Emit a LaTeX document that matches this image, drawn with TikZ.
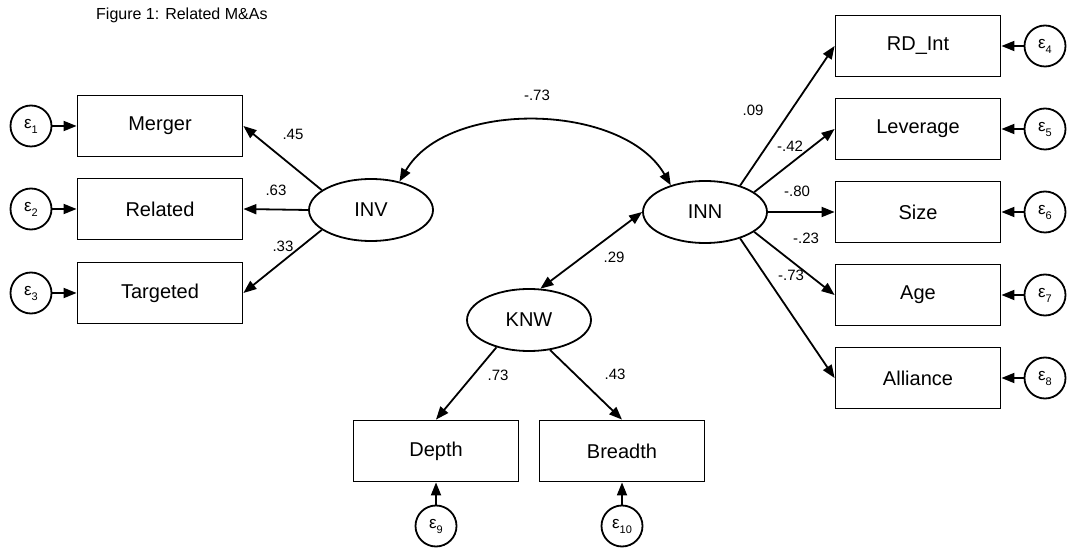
\documentclass[tikz,border=0pt]{standalone}
\usepackage{fontspec}
\setmainfont{Liberation Sans}
\usetikzlibrary{arrows.meta,shapes.geometric}
\newcommand{\errlab}[1]{ε\raisebox{-5pt}{\fontsize{11}{11}\selectfont#1}}
\begin{document}
\begin{tikzpicture}[x=1pt, y=1pt,
    obsbox/.style={draw, line width=1.8pt, minimum width=165pt, minimum height=61pt, inner sep=0pt, font=\fontsize{20}{24}\selectfont},
    latent/.style={draw, ellipse, line width=1.8pt, minimum width=124pt, minimum height=62pt, inner sep=0pt, font=\fontsize{20}{24}\selectfont},
    errc/.style={draw, circle, line width=1.8pt, minimum size=41pt, inner sep=0pt, font=\fontsize{17}{20}\selectfont},
    onearrow/.style={line width=1.8pt, -{Triangle[length=13pt,width=10pt]}},
    twoarrow/.style={line width=1.8pt, {Triangle[length=13pt,width=10pt]}-{Triangle[length=13pt,width=10pt]}},
    coef/.style={font=\fontsize{15}{18}\selectfont, inner sep=0pt}]
    \useasboundingbox (0,0) rectangle (1067,549);
    \node[anchor=west, inner sep=0pt, font=\fontsize{16}{19}\selectfont] (title) at (96,534) {Figure 1: Related M\&As};

    \node[latent] (INV) at (371,339) {INV};
    \node[latent] (INN) at (705,337) {INN};
    \node[latent] (KNW) at (529,229) {KNW};

    % indicators
    \foreach \vName/\vY/\vNum in {Merger/423/1, Related/340/2, Targeted/256/3}{
        \node[obsbox] (\vName) at (160,\vY) {\vName};
        \node[errc] (e\vNum) at (31,\vY) {\errlab{\vNum}};
        \draw[onearrow] (e\vNum) -- (\vName);
    }
    \foreach \vName/\vText/\vY/\vNum in {rdint/RD\_Int/503/4, leverage/Leverage/420/5, size/Size/337/6, age/Age/254/7, alliance/Alliance/171/8}{
        \node[obsbox] (\vName) at (918,\vY) {\vText};
        \node[errc] (e\vNum) at (1045,\vY) {\errlab{\vNum}};
        \draw[onearrow] (e\vNum) -- (\vName);
    }
    \foreach \vName/\vX/\vNum in {Depth/436/9, Breadth/622/10}{
        \node[obsbox] (\vName) at (\vX,98) {\vName};
        \node[errc] (e\vNum) at (\vX,23) {\errlab{\vNum}};
        \draw[onearrow] (e\vNum) -- (\vName);
    }

    \draw[onearrow] (INV.158) -- (Merger.east);
    \draw[onearrow] (INV.west) -- (Related.east);
    \draw[onearrow] (INV.202) -- (Targeted.east);
    \draw[onearrow] (INN.37) -- (rdint.west);
    \draw[onearrow] (INN.22) -- (leverage.west);
    \draw[onearrow] (INN.east) -- (size.west);
    \draw[onearrow] (INN.-22) -- (age.west);
    \draw[onearrow] (INN.-37) -- (alliance.west);
    \draw[onearrow] (KNW.220) -- (Depth.north);
    \draw[onearrow] (KNW.305) -- (Breadth.north);
    \draw[twoarrow] (KNW.70) -- (INN.west);
    \draw[twoarrow] (INV.45) to[out=60, in=120, looseness=0.9] (INN.142);

    \foreach \vX/\vY/\vTxt [count=\i] in {293/415/.45, 276/359/.63, 283/303/.33, 537/454/-.73, 753/439/.09, 790/403/-.42, 797/358/-.80, 806/311/-.23, 791/274/-.73, 614/292/.29, 498/174/.73, 615/175/.43}
        \node[coef] (c\i) at (\vX,\vY) {\vTxt};
\end{tikzpicture}
\end{document}
